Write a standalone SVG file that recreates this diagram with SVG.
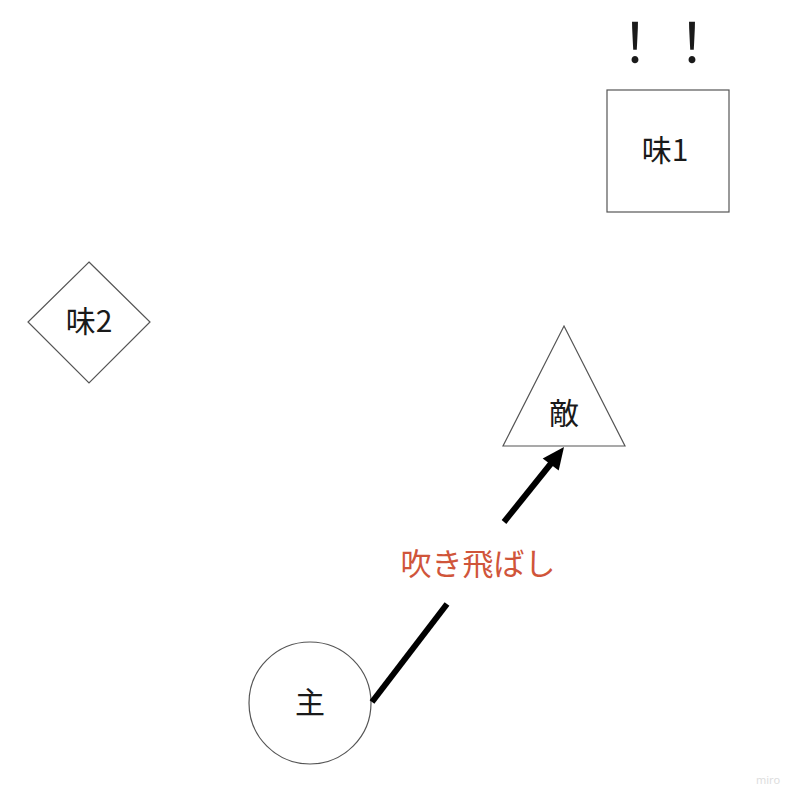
<svg xmlns="http://www.w3.org/2000/svg" width="800" height="804" viewBox="0 0 800 804">
<style>
.shape{fill:#fff;stroke:#555;stroke-width:1.2}
.lbl{font-family:"Noto Sans CJK JP","Noto Sans",sans-serif;font-size:30px;fill:#1a1a1a;text-anchor:middle;dominant-baseline:central}
.edge{stroke:#000;stroke-width:6;fill:none}
</style>
<rect width="800" height="804" fill="#fff"/>
<text class="lbl" x="665" y="39" style="font-size:54px;letter-spacing:3px">！！</text>
<g id="mikata1">
<rect class="shape" x="607" y="90" width="122" height="122"/>
<text class="lbl" x="665" y="148">味1</text>
</g>
<g id="mikata2">
<polygon class="shape" points="89,262 150,322 89,383 28,322"/>
<text class="lbl" x="89" y="319">味2</text>
</g>
<g id="teki">
<polygon class="shape" points="564,326 625,446 503,446"/>
<text class="lbl" x="564" y="411">敵</text>
</g>
<g id="shu">
<circle class="shape" cx="310" cy="703" r="61"/>
<text class="lbl" x="310" y="700">主</text>
</g>
<g id="connectors">
<line class="edge" x1="372" y1="702" x2="447" y2="604"/>
<line class="edge" x1="504" y1="522" x2="553" y2="461"/>
<polygon points="564,447 558.7,470.5 542.7,458.5" fill="#000"/>
<text x="478" y="561" style="font-family:'Noto Sans CJK JP','Noto Sans',sans-serif;font-size:31px;fill:#d0553a;text-anchor:middle;dominant-baseline:central">吹き飛ばし</text>
</g>
<text x="768" y="784" style="font-family:'Noto Sans',sans-serif;font-size:11px;fill:#ddd;text-anchor:middle">miro</text>
</svg>
